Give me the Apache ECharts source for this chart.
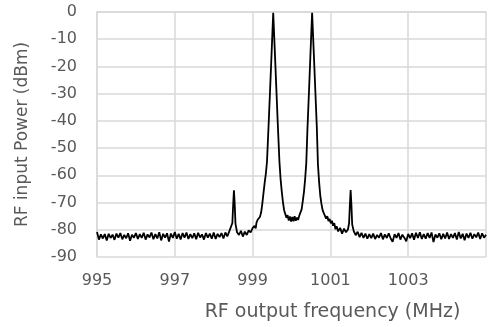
<!DOCTYPE html>
<html>
<head>
<meta charset="utf-8">
<script src="https://cdn.jsdelivr.net/npm/echarts@6/dist/echarts.min.js"></script>
<style>html,body{margin:0;padding:0;background:#fff;}#chart{width:489px;height:327px;}</style>
</head>
<body>
<div id="chart"></div>
<script>
// RF output frequency (MHz)
var frequency = [
  995.00,995.05,995.10,995.15,995.20,995.25,995.30,995.35,995.40,995.45,
  995.50,995.55,995.60,995.65,995.70,995.75,995.80,995.85,995.90,995.95,
  996.00,996.05,996.10,996.15,996.20,996.25,996.30,996.35,996.40,996.45,
  996.50,996.55,996.60,996.65,996.70,996.75,996.80,996.85,996.90,996.95,
  997.00,997.05,997.10,997.15,997.20,997.25,997.30,997.35,997.40,997.45,
  997.50,997.55,997.60,997.65,997.70,997.75,997.80,997.85,997.90,997.95,
  998.00,998.05,998.10,998.15,998.20,998.25,998.30,998.35,998.40,
  998.45,998.48,998.50,998.52,998.54,998.56,998.60,
  998.65,998.70,998.75,998.80,998.85,998.90,998.95,999.00,999.05,999.08,
  999.10,999.13,999.16,999.19,999.22,999.25,999.28,999.31,999.34,999.37,
  999.41,999.45,999.49,999.53,999.57,999.61,999.65,999.69,999.72,999.75,
  999.78,999.81,999.84,999.87,999.90,999.93,999.96,999.99,1000.02,1000.05,
  1000.08,1000.11,1000.14,1000.17,1000.20,1000.23,1000.26,1000.29,1000.32,1000.35,
  1000.38,1000.41,1000.45,1000.49,1000.53,1000.57,1000.61,1000.65,1000.68,1000.71,
  1000.74,1000.77,1000.80,1000.83,1000.86,1000.89,1000.92,1000.95,1000.98,1001.01,
  1001.04,1001.07,1001.10,1001.13,1001.16,1001.20,1001.25,1001.30,1001.35,1001.40,
  1001.45,
  1001.48,1001.50,1001.52,1001.54,1001.56,1001.60,1001.65,1001.70,1001.75,1001.80,
  1001.85,1001.90,1001.95,
  1002.00,1002.05,1002.10,1002.15,1002.20,1002.25,1002.30,1002.35,1002.40,1002.45,
  1002.50,1002.55,1002.60,1002.65,1002.70,1002.75,1002.80,1002.85,1002.90,1002.95,
  1003.00,1003.05,1003.10,1003.15,1003.20,1003.25,1003.30,1003.35,1003.40,1003.45,
  1003.50,1003.55,1003.60,1003.65,1003.70,1003.75,1003.80,1003.85,1003.90,1003.95,
  1004.00,1004.05,1004.10,1004.15,1004.20,1004.25,1004.30,1004.35,1004.40,1004.45,
  1004.50,1004.55,1004.60,1004.65,1004.70,1004.75,1004.80,1004.85,1004.90,1004.95,
  1005.00
];
// RF input Power (dBm)
var power = [
  -80.8,-83.6,-81.7,-83.2,-81.6,-83.9,-81.5,-83.0,-81.8,-83.7,
  -81.4,-82.9,-81.2,-83.5,-81.9,-83.1,-81.3,-84.0,-81.8,-82.9,
  -81.2,-83.4,-81.6,-83.0,-81.1,-83.6,-81.7,-82.8,-81.0,-83.5,
  -81.6,-83.2,-80.9,-83.9,-81.5,-82.9,-81.3,-84.3,-81.4,-83.0,
  -80.8,-83.3,-81.5,-83.6,-81.2,-82.9,-81.0,-83.4,-81.6,-83.1,
  -81.3,-83.5,-81.1,-82.8,-81.7,-83.6,-81.2,-82.9,-81.4,-83.3,
  -81.0,-83.4,-81.5,-82.7,-81.2,-83.2,-81.0,-82.4,-80.6,
  -80.2,-77.5,-71.0,-65.5,-70.5,-77.8,-80.9,
  -81.9,-80.4,-82.5,-80.7,-81.9,-80.2,-81.0,-79.4,-78.6,-79.5,
  -77.4,-76.3,-76.9,-75.2,-73.6,-70.4,-66.5,-62.8,-59.5,-55.0,
  -42.0,-28.5,-14.5,-0.3,-14.0,-28.0,-42.0,-55.0,-61.5,-66.0,
  -69.8,-72.8,-74.2,-75.6,-74.6,-76.6,-75.1,-77.0,-75.3,-76.9,
  -75.0,-76.7,-75.5,-76.4,-74.8,-74.3,-72.5,-69.5,-66.2,-61.5,
  -55.5,-43.0,-29.0,-14.5,-0.3,-14.0,-28.0,-42.0,-56.0,-62.5,
  -67.5,-70.5,-72.8,-73.9,-74.6,-75.9,-75.0,-76.8,-76.0,-77.6,
  -76.7,-78.5,-77.6,-79.8,-78.7,-80.6,-79.3,-81.4,-79.6,-80.9,
  -79.9,
  -77.6,-71.0,-65.4,-70.8,-78.0,-80.5,-82.0,-80.7,-82.7,-81.1,
  -83.0,-81.4,-83.3,
  -81.6,-83.1,-81.4,-83.4,-81.9,-82.9,-81.2,-83.5,-81.7,-83.0,
  -81.3,-83.2,-84.4,-81.6,-83.0,-81.2,-83.6,-81.8,-82.9,-84.2,
  -81.5,-83.1,-81.3,-83.7,-81.1,-83.0,-80.9,-83.4,-81.6,-83.3,
  -81.2,-83.0,-81.0,-84.5,-81.7,-82.9,-81.3,-83.5,-81.5,-83.2,
  -81.0,-83.4,-81.6,-83.0,-81.2,-83.6,-80.8,-83.2,-81.5,-83.8,
  -81.4,-83.0,-81.1,-83.3,-81.6,-82.8,-81.0,-83.4,-81.3,-82.9,
  -81.8
];
var xTicks = [995, 997, 999, 1001, 1003];
var yTicks = [0, -10, -20, -30, -40, -50, -60, -70, -80, -90];

var seriesData = frequency.map(function (f, i) { return [f, power[i]]; });
var chart = echarts.init(document.getElementById('chart'), null, {renderer: 'canvas'});
var grey = '#d9d9d9';
var textCol = '#595959';
var font = 'DejaVu Sans';
chart.setOption({
  animation: false,
  backgroundColor: '#ffffff',
  grid: {left: 97, top: 12, right: 0, bottom: 70, containLabel: false},
  xAxis: {
    type: 'value', min: 995, max: 1005, interval: 2,
    name: 'RF output frequency (MHz)', nameLocation: 'middle', nameGap: 46,
    nameTextStyle: {color: textCol, fontFamily: font, fontSize: 19, padding: [0, 0, 0, 82]},
    axisLine: {show: true, lineStyle: {color: grey, width: 1.5}},
    axisTick: {show: false},
    axisLabel: {color: textCol, fontFamily: font, fontSize: 16, margin: 16,
      formatter: function (v) { return xTicks.indexOf(v) >= 0 ? String(v) : ''; }},
    splitLine: {show: true, lineStyle: {color: grey, width: 1.5}}
  },
  yAxis: {
    type: 'value', min: -90, max: 0, interval: 10,
    name: 'RF input Power (dBm)', nameLocation: 'middle', nameGap: 66,
    nameTextStyle: {color: textCol, fontFamily: font, fontSize: 17},
    axisLine: {show: true, lineStyle: {color: grey, width: 1.5}},
    axisTick: {show: false},
    axisLabel: {color: textCol, fontFamily: font, fontSize: 16, margin: 20,
      formatter: function (v) { return yTicks.indexOf(v) >= 0 ? String(v) : ''; }},
    splitLine: {show: true, lineStyle: {color: grey, width: 1.5}}
  },
  series: [{
    type: 'line', data: seriesData, showSymbol: false, symbol: 'none',
    lineStyle: {color: '#000000', width: 1.8}, clip: true
  }]
});
</script>
</body>
</html>
